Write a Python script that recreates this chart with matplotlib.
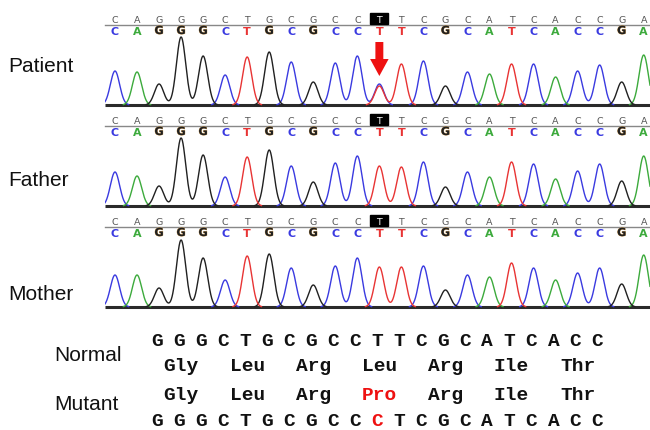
import numpy as np
import matplotlib
matplotlib.use("Agg")
import matplotlib.pyplot as plt
from matplotlib.patches import Rectangle, FancyArrow
from matplotlib.transforms import blended_transform_factory
import matplotlib.patheffects as pe

# ---------------- data ----------------
bases = list("CAGGGCTGCGCCTTCGCATCACCGA")
mut_index = 12
panel_names = ["Patient", "Father", "Mother"]
patient_heights = [34, 33, 21, 68, 49, 30, 48, 53, 43, 23, 42, 49,
                   19, 41, 44, 19, 33, 31, 41, 41, 28, 34, 40, 23, 50]
father_heights = [34, 30, 20, 68, 51, 29, 49, 56, 40, 24, 43, 50,
                  40, 39, 44, 19, 34, 29, 44, 42, 27, 35, 42, 25, 50]
mother_heights = [32, 32, 19, 67, 49, 27, 51, 53, 39, 22, 41, 49,
                  40, 40, 41, 17, 32, 30, 44, 39, 27, 34, 39, 23, 52]
patient_secondary = {12: ("C", 21)}   # heterozygous C peak under the T call

normal_seq = "GGGCTGCGCCTTCGCATCACC"
mutant_seq = "GGGCTGCGCCCTCGCATCACC"
normal_aa = ["Gly", "Leu", "Arg", "Leu", "Arg", "Ile", "Thr"]
mutant_aa = ["Gly", "Leu", "Arg", "Pro", "Arg", "Ile", "Thr"]
seq_offset = 2

colors = {"C": "#3a3ae0", "A": "#3caa3c", "G": "#202020", "T": "#e83434"}

# ---------------- figure ----------------
W, H = 650, 431
fig = plt.figure(figsize=(W / 100, H / 100), dpi=100)
fig.patch.set_facecolor("white")

baselines = [106, 207, 308]
label_y = [66, 181, 295]
heights_all = [patient_heights, father_heights, mother_heights]
x0_px, step_px = 115, 22.03
xl = ((105 - x0_px) / step_px, (650 - x0_px) / step_px)
ytop, ybot = 95, -3

xs = np.linspace(xl[0], xl[1], 3000)
sigma = 0.21

axes = []
for p, (name, b, hts) in enumerate(zip(panel_names, baselines, heights_all)):
    top_px = b - ytop
    hpx = ytop - ybot
    ax = fig.add_axes([105 / W, 1 - (top_px + hpx) / H, 545 / W, hpx / H])
    ax.set_xlim(*xl)
    ax.set_ylim(ybot, ytop)
    ax.axis("off")
    axes.append(ax)

    # baseline
    ax.plot(xl, [0, 0], color="#2a2a2a", lw=2.2, zorder=1, solid_capstyle="butt")
    # peaks per channel
    for ch in "CAGT":
        y = np.zeros_like(xs)
        for i, (bch, h) in enumerate(zip(bases, hts)):
            if bch == ch:
                y += h * np.exp(-0.5 * ((xs - i) / sigma) ** 2)
        if p == 0:
            for i, (sch, sh) in patient_secondary.items():
                if sch == ch:
                    y += sh * np.exp(-0.5 * ((xs - i) / sigma) ** 2)
        y = np.where(y > 0.4, y, np.nan)
        ax.plot(xs, y, color=colors[ch], lw=1.0, zorder=2)

    # reference line and letters
    ax.plot(xl, [80, 80], color="#888888", lw=1.0, zorder=1, clip_on=False)
    for i, bch in enumerate(bases):
        if i == mut_index:
            ax.add_patch(Rectangle((i - 0.41, 81), 0.82, 11, color="black",
                                   zorder=3, clip_on=False))
            ax.text(i, 85.5, bch, color="white", fontsize=6.8, ha="center",
                    va="center", zorder=4, family="DejaVu Sans")
        else:
            ax.text(i, 85.5, bch, color="#555555", fontsize=6.8, ha="center",
                    va="center", family="DejaVu Sans")
        t = ax.text(i, 74, bch, color=colors[bch], fontsize=8, ha="center",
                    va="center", fontweight="bold", family="DejaVu Sans")
        if bch == "G":
            t.set_path_effects([pe.Stroke(linewidth=0.5, foreground="#c8944a"),
                                pe.Normal()])

    fig.text(8 / W, 1 - label_y[p] / H, name, fontsize=15, ha="left",
             va="center", family="Liberation Sans", color="#111111")

# red arrow on the patient panel
axes[0].add_patch(FancyArrow(mut_index, 63, 0, -34, width=0.36, head_width=0.84,
                             head_length=17, length_includes_head=True,
                             color="#ee1111", zorder=5, lw=0))

# ---------------- bottom sequence block ----------------
tr = blended_transform_factory(axes[2].transData, fig.transFigure)
mono = dict(family="Liberation Mono", fontweight="bold", fontsize=14,
            ha="center", va="center")

def yf(px):
    return 1 - px / H

for k, ch in enumerate(normal_seq):
    fig.text(seq_offset + k - 0.1, yf(342), ch, transform=tr, color="#111111", **mono)
for k, ch in enumerate(mutant_seq):
    col = "#ee1111" if ch != normal_seq[k] else "#111111"
    fig.text(seq_offset + k - 0.1, yf(422), ch, transform=tr, color=col, **mono)
for c, aa in enumerate(normal_aa):
    fig.text(seq_offset + 3 * c + 1, yf(367), aa, transform=tr, color="#111111", **mono)
for c, aa in enumerate(mutant_aa):
    col = "#ee1111" if aa != normal_aa[c] else "#111111"
    fig.text(seq_offset + 3 * c + 1, yf(396), aa, transform=tr, color=col, **mono)

fig.text(54 / W, yf(356), "Normal", fontsize=15, ha="left", va="center",
         family="Liberation Sans", color="#111111")
fig.text(54 / W, yf(405), "Mutant", fontsize=15, ha="left", va="center",
         family="Liberation Sans", color="#111111")

fig.savefig("out.png", dpi=100, facecolor="white")
